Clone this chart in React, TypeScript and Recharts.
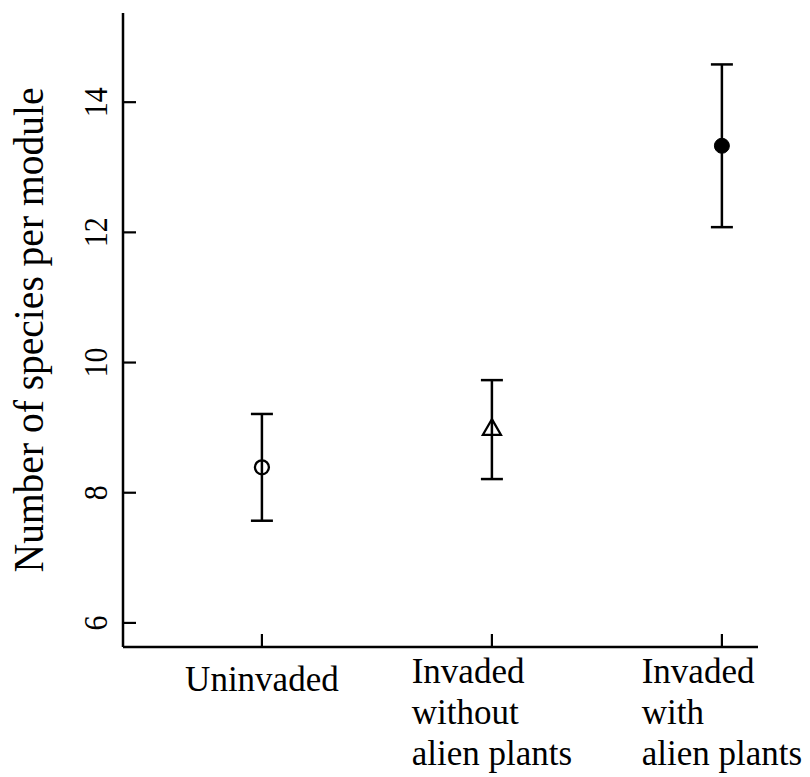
import React from 'react';
import { ComposedChart, Scatter, XAxis, YAxis, ErrorBar } from 'recharts';

// group labels (R style multi-line), positions on the x scale
const groups = ['Uninvaded', 'Invaded\nwithout\nalien plants', 'Invaded\nwith\nalien plants'];
const positions = [1, 2, 3];
// mean number of species per module and its error (±)
const means = [8.39, 8.97, 13.33];
const errors = [0.82, 0.76, 1.25];
const markers = ['circle', 'triangle', 'dot'];
const yTicks = [6, 8, 10, 12, 14];

const data = groups.map((g, i) => ({
  pos: positions[i],
  mean: means[i],
  err: errors[i],
  marker: markers[i],
}));

const FONT = '"Liberation Serif", "Times New Roman", serif';
const X_FONT_SIZE = 35;

let ctx: CanvasRenderingContext2D | null = null;
function textWidth(s: string) {
  if (!ctx) ctx = document.createElement('canvas').getContext('2d');
  if (!ctx) return s.length * X_FONT_SIZE * 0.45;
  ctx.font = `${X_FONT_SIZE}px "Liberation Serif"`;
  return ctx.measureText(s).width;
}

function XTick({ x, y, payload }: any) {
  const label = groups[Math.round(payload.value) - 1] || '';
  const lines = label.split('\n');
  if (lines.length === 1) {
    return (
      <text x={x} y={y + 57} textAnchor="middle" fontFamily={FONT} fontSize={X_FONT_SIZE} fill="#000">
        {label}
      </text>
    );
  }
  const w = Math.max(...lines.map(textWidth));
  return (
    <text fontFamily={FONT} fontSize={X_FONT_SIZE} fill="#000">
      {lines.map((l, i) => (
        <tspan key={i} x={x - w / 2} y={y + 49 + i * 41}>
          {l}
        </tspan>
      ))}
    </text>
  );
}

function YTick({ x, y, payload }: any) {
  return (
    <text
      transform={`translate(${x},${y}) rotate(-90) scale(1,1.1)`}
      textAnchor="middle"
      fontFamily={FONT}
      fontSize={30}
      fill="#000"
    >
      {payload.value}
    </text>
  );
}

function Marker(props: any) {
  const { cx, cy, payload } = props;
  if (payload.marker === 'circle') {
    return <circle cx={cx} cy={cy} r={7} fill="none" stroke="#000" strokeWidth={2.3} />;
  }
  if (payload.marker === 'triangle') {
    const h = 9;
    const pts = `${cx},${cy - h * 1.155} ${cx + h},${cy + h * 0.577} ${cx - h},${cy + h * 0.577}`;
    return <polygon points={pts} fill="none" stroke="#000" strokeWidth={2.3} strokeLinejoin="miter" />;
  }
  return <circle cx={cx} cy={cy} r={7.5} fill="#000" stroke="#000" strokeWidth={1} />;
}

export default function App() {
  return (
    <div style={{ position: 'absolute', left: 0, top: 0, background: '#fff' }}>
      <ComposedChart width={810} height={777} data={data} margin={{ top: 13, right: 52, bottom: 0, left: 0 }}>
        <XAxis
          dataKey="pos"
          type="number"
          domain={[0.396, 3.157]}
          ticks={positions}
          height={130}
          stroke="#000"
          axisLine={{ stroke: '#000', strokeWidth: 2.5 }}
          tickLine={{ stroke: '#000', strokeWidth: 2.2 }}
          tickSize={-13}
          tickMargin={0}
          tick={(p: any) => <XTick {...p} />}
          interval={0}
        />
        <YAxis
          type="number"
          domain={[5.63, 15.37]}
          ticks={yTicks}
          width={123}
          stroke="#000"
          axisLine={{ stroke: '#000', strokeWidth: 2.5 }}
          tickLine={{ stroke: '#000', strokeWidth: 2.2 }}
          tickSize={-13}
          tickMargin={29}
          tick={(p: any) => <YTick {...p} />}
          interval={0}
          label={{
            content: (lp: any) => {
              const vb = lp.viewBox || { x: 0, y: 13, width: 123, height: 634 };
              return (
                <text
                  transform={`translate(${vb.x + 43},${vb.y + vb.height / 2}) rotate(-90) scale(1,1.08)`}
                  textAnchor="middle"
                  fontFamily={FONT}
                  fontSize={39.5}
                  fill="#000"
                >
                  Number of species per module
                </text>
              );
            },
          }}
        />
        <Scatter dataKey="mean" shape={(p: any) => <Marker {...p} />} isAnimationActive={false}>
          <ErrorBar dataKey="err" direction="y" width={11} stroke="#000" strokeWidth={2.5} />
        </Scatter>
      </ComposedChart>
    </div>
  );
}
